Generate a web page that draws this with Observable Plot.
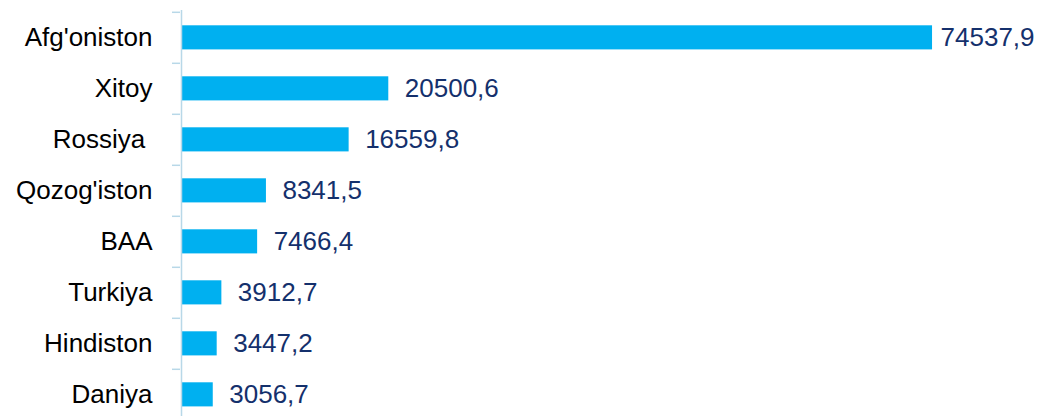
<!DOCTYPE html>
<html><head><meta charset="utf-8">
<script src="https://cdn.jsdelivr.net/npm/d3@7"></script>
<script src="https://cdn.jsdelivr.net/npm/@observablehq/plot@0.6"></script>
<style>body{margin:0;background:#fff}</style>
</head><body><div id="chart"></div>
<script>
const countries = ["Afg'oniston","Xitoy","Rossiya ","Qozog'iston","BAA","Turkiya","Hindiston","Daniya"];
const values = [74537.9,20500.6,16559.8,8341.5,7466.4,3912.7,3447.2,3056.7];
const data = countries.map((c,i)=>({country:c, value:values[i]}));
const fmt = v => v.toFixed(1).replace(".", ",");
const step = 51.4;
const chart = Plot.plot({
  width: 1040, height: 416,
  marginLeft: 181, marginTop: 10, marginBottom: 0, marginRight: 0,
  style: {fontFamily: "'Liberation Sans', Arial, sans-serif", background: "#fff"},
  x: {domain: [0, 80000], range: [182, 987], axis: null},
  y: {domain: countries, range: [10, 10 + 8*step], padding: 0, axis: null},
  marks: [
    Plot.barX(data, {y: "country", x: "value", fill: "#00B0F0", insetTop: 13.3, insetBottom: 13.6}),
    Plot.ruleX([0], {stroke: "#B8D8E8", strokeWidth: 1.5, dx: -1}),
    Plot.axisY({tickSize: 8, tickFormat: () => "", label: null, stroke: "#B8D8E8", strokeWidth: 1.5, dy: -step/2, dx: -1}),
    Plot.axisY({tickSize: 0, tickPadding: 29, label: null, fontSize: 26, fill: "#000", stroke: null}),
    Plot.text(data.slice(0,1), {y: "country", x: "value", text: d => fmt(d.value), textAnchor: "start", dx: 8, fontSize: 26, fill: "#14306C"}),
    Plot.text(data.slice(1), {y: "country", x: "value", text: d => fmt(d.value), textAnchor: "start", dx: 16, fontSize: 26, fill: "#14306C"})
  ]
});
document.getElementById("chart").appendChild(chart);
</script></body></html>
